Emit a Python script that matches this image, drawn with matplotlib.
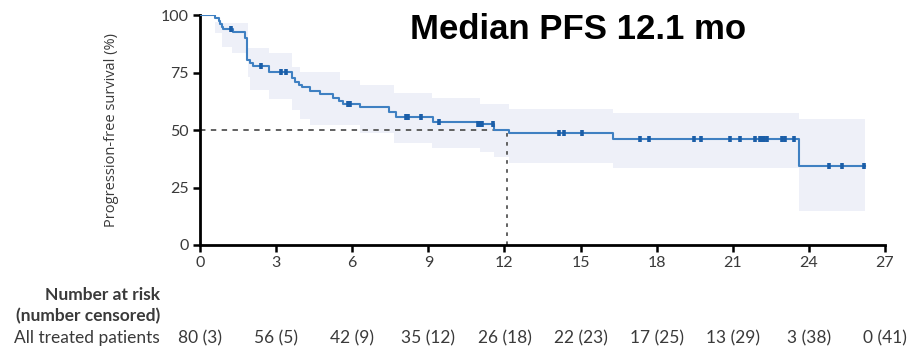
import numpy as np
import matplotlib.pyplot as plt
from matplotlib import transforms

# Kaplan-Meier steps: event time (months) and survival (%) after the step
step_t = [0, 0.6, 0.75, 0.8, 0.86, 0.9, 1.3, 1.78, 1.87, 1.97, 2.1, 2.72,
          3.62, 3.75, 3.9, 4.01, 4.34, 4.73, 5.26, 5.46, 5.65, 6.31,
          7.45, 7.72, 9.17, 10.95, 11.6, 12.17, 16.26, 23.6]
step_s = [100, 98.75, 97.5, 96.25, 95.0, 93.75, 92.5, 90.0, 80.4, 79.1, 77.8, 75.1,
          72.5, 71.0, 69.6, 68.8, 67.0, 65.5, 64.0, 62.6, 61.2, 59.8,
          57.7, 55.6, 53.6, 52.5, 50.0, 48.5, 46.0, 34.4]
t_end = 26.2

# censored observations (months)
censor_t = [1.21, 2.41, 3.2, 3.39, 5.85, 5.92, 8.1, 8.2, 8.72, 9.43,
            10.97, 11.05, 11.12, 11.55, 14.14, 14.36, 15.06, 17.36, 17.69,
            19.49, 19.75, 20.91, 21.27, 21.87, 22.06, 22.15, 22.25, 22.35,
            22.95, 23.05, 23.4, 24.81, 25.31, 26.19]

# 95% confidence band
ci_t  = [0, 0.6, 0.86, 1.25, 1.9, 1.97, 2.72, 3.62, 3.95, 4.34, 5.52, 6.31,
         7.63, 9.14, 11.05, 11.6, 12.17, 16.26, 23.6, 26.23]
ci_hi = [100, 97, 96.5, 96.5, 85.5, 85.5, 83.3, 77.5, 75.4, 75.4, 71.7, 69.6,
         66.0, 63.8, 61.3, 61.3, 59.0, 57.5, 55.0, 55.0]
ci_lo = [100, 92, 86.2, 83.3, 73.2, 67.4, 63.3, 58.7, 55.0, 52.2, 52.2, 48.5,
         44.2, 42.0, 40.6, 38.4, 35.8, 33.3, 14.9, 14.9]

median = 12.1
risk_t = [0, 3, 6, 9, 12, 15, 18, 21, 24, 27]
at_risk = [80, 56, 42, 35, 26, 22, 17, 13, 3, 0]
censored = [3, 5, 9, 12, 18, 23, 25, 29, 38, 41]

plt.rcParams['font.family'] = ['Lato', 'DejaVu Sans']
txt = '#3a3a3a'
line_c = '#3f80c2'
mark_c = '#1b5ea8'

fig = plt.figure(figsize=(9.1, 3.49), dpi=100)
ax = fig.add_axes([0.2198, 0.298, 0.7527, 0.659])

ax.fill_between(ci_t, ci_lo, ci_hi, step='post', color='#eef0f8', lw=0, zorder=1)

xs = step_t + [t_end]
ys = step_s + [step_s[-1]]
ax.step(xs, ys, where='post', color=line_c, lw=1.5, zorder=3)

idx = np.searchsorted(step_t, censor_t, side='right') - 1
cs = np.array(step_s)[idx]
ax.plot(censor_t, cs, ls='none', marker='|', ms=4.5, mew=2.6, color=mark_c, zorder=4)

# median lines
ax.plot([0, median], [50, 50], color='#555555', lw=1.3, ls=(0, (3, 3)), zorder=2)
ax.plot([median, median], [0, 50], color='#555555', lw=1.3, ls=(0, (2, 3)), zorder=2)

ax.set_xlim(0, 27)
ax.set_ylim(0, 100)
ax.set_xticks(risk_t)
ax.set_yticks([0, 25, 50, 75, 100])
for s in ['top', 'right']:
    ax.spines[s].set_visible(False)
for s in ['left', 'bottom']:
    ax.spines[s].set_linewidth(2)
ax.tick_params(direction='out', length=5, width=1.8, labelsize=11.5,
               labelcolor=txt, pad=3)
ax.set_ylabel('Progression-free survival (%)', fontsize=10.5, color=txt,
              family='Open Sans', labelpad=30)

fig.text(0.635, 0.915, 'Median PFS 12.1 mo', fontsize=25, fontweight='bold',
         family='Liberation Sans', ha='center', va='center', color='black')

# risk table
fig.text(0.176, 1 - 295 / 349, 'Number at risk', fontsize=12.5, fontweight='bold',
         ha='right', va='center', color=txt)
fig.text(0.176, 1 - 316 / 349, '(number censored)', fontsize=12.5, fontweight='bold',
         ha='right', va='center', color=txt)
fig.text(0.176, 1 - 338 / 349, 'All treated patients', fontsize=12.5,
         ha='right', va='center', color=txt)
tr = transforms.blended_transform_factory(ax.transData, fig.transFigure)
for t, n, c in zip(risk_t, at_risk, censored):
    fig.text(t, 1 - 338 / 349, f'{n} ({c})', transform=tr, fontsize=12.5,
             ha='center', va='center', color=txt)

fig.savefig('out.png', dpi=100)
